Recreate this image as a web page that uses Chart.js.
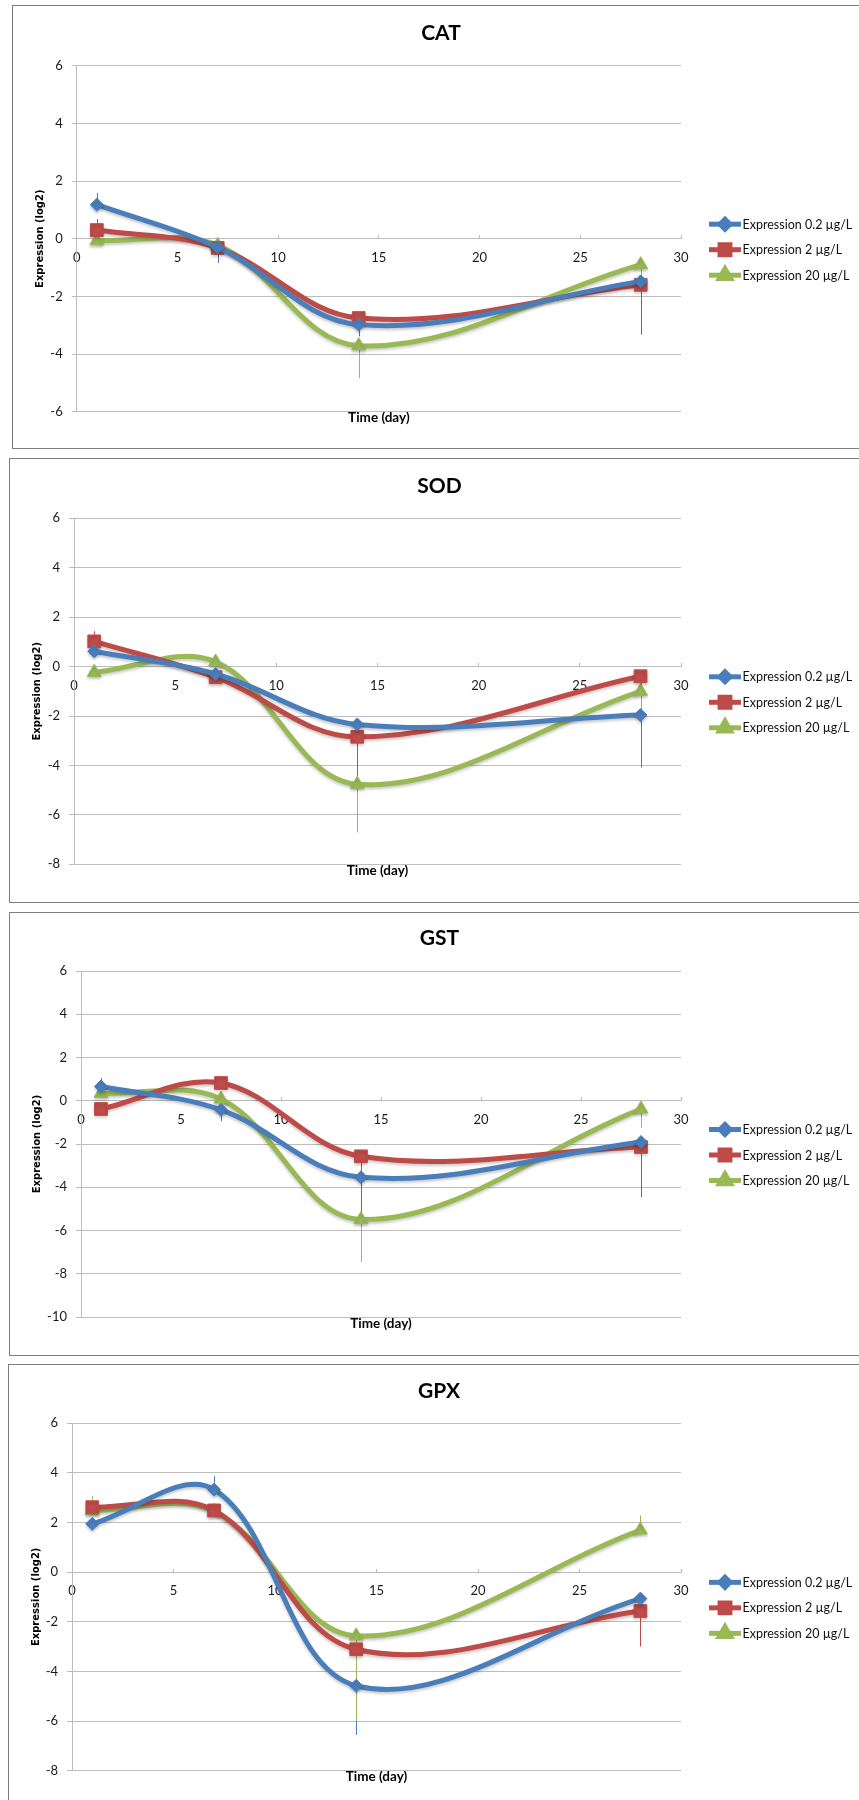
<!DOCTYPE html>
<html>
<head>
<meta charset="utf-8">
<script src="https://cdn.jsdelivr.net/npm/chart.js@4.4.1/dist/chart.umd.min.js"></script>
<style>
html,body{margin:0;padding:0;background:#fff;}
body{width:859px;height:1800px;overflow:hidden;position:relative;}
.panel{position:absolute;border:1px solid #7d7d7d;box-sizing:border-box;background:#fff;overflow:hidden;}
.panel canvas{position:absolute;left:0;top:0;}
</style>
</head>
<body>
<div id="p0" class="panel"><canvas id="c0"></canvas></div>
<div id="p1" class="panel"><canvas id="c1"></canvas></div>
<div id="p2" class="panel"><canvas id="c2"></canvas></div>
<div id="p3" class="panel"><canvas id="c3"></canvas></div>
<script>
// ---------------- DATA ----------------
const days = [1, 7, 14, 28];
const seriesLabels = ['Expression 0.2 µg/L', 'Expression 2 µg/L', 'Expression 20 µg/L'];
const geneTitles = ['CAT', 'SOD', 'GST', 'GPX'];
const xTickMin = 0, xTickMax = 30, xTickStep = 5;
const yTickMin = [-6, -8, -10, -8];
const yTickMax = [6, 6, 6, 6];
const yTickStep = 2;
const yAxisTitle = 'Expression (log2)';
const xAxisTitle = 'Time (day)';

// CAT
const cat02 = [1.18, -0.30, -2.98, -1.48];
const cat2  = [0.30, -0.32, -2.75, -1.60];
const cat20 = [-0.07, -0.23, -3.71, -0.90];
const catErr02 = [0.40, 0.55, 0.25, 0.30];
const catErr2  = [0.38, 0.20, 0.64, 1.73];
const catErr20 = [0.10, 0.15, 1.12, 0.90];
// SOD
const sod02 = [0.62, -0.30, -2.34, -1.96];
const sod2  = [1.02, -0.43, -2.84, -0.39];
const sod20 = [-0.23, 0.19, -4.76, -1.00];
const sodErr02 = [0.15, 0.20, 0.30, 2.13];
const sodErr2  = [0.41, 0.20, 1.80, 2.08];
const sodErr20 = [0.10, 0.10, 1.95, 1.00];
// GST
const gst02 = [0.66, -0.42, -3.54, -1.91];
const gst2  = [-0.38, 0.82, -2.57, -2.14];
const gst20 = [0.35, 0.08, -5.49, -0.38];
const gstErr02 = [0.39, 0.53, 0.30, 0.20];
const gstErr2  = [0.20, 0.20, 2.80, 2.32];
const gstErr20 = [0.20, 0.10, 1.97, 0.88];
// GPX
const gpx02 = [1.94, 3.32, -4.58, -1.07];
const gpx2  = [2.61, 2.48, -3.11, -1.57];
const gpx20 = [2.48, 2.45, -2.57, 1.69];
const gpxErr02 = [0.20, 0.54, 1.98, 0.30];
const gpxErr2  = [0.30, 0.20, 0.80, 1.43];
const gpxErr20 = [0.57, 0.20, 3.44, 0.59];

const geneValues = [[cat02, cat2, cat20], [sod02, sod2, sod20], [gst02, gst2, gst20], [gpx02, gpx2, gpx20]];
const geneErrors = [[catErr02, catErr2, catErr20], [sodErr02, sodErr2, sodErr20], [gstErr02, gstErr2, gstErr20], [gpxErr02, gpxErr2, gpxErr20]];

// ---------------- STYLE / LAYOUT ----------------
const seriesColors = ['#4a7ebb', '#be4b48', '#98b954'];
const seriesPoint = ['rectRot', 'rect', 'triangle'];
const seriesRadius = [6.5, 9, 8];
const legendRadius = [5, 7, 6.5];

// page coordinates of each panel
const geom = [
  {left: 12, top: 5,    height: 444, areaLeft: 76.7, areaTop: 65.7,  areaBottom: 411.7,  titleY: 33,   yTitleX: 40, xTitleY: 418},
  {left: 9,  top: 458,  height: 445, areaLeft: 74,   areaTop: 518.3, areaBottom: 864.3,  titleY: 486,  yTitleX: 37, xTitleY: 871},
  {left: 9,  top: 912,  height: 444, areaLeft: 81,   areaTop: 971,   areaBottom: 1317,   titleY: 938,  yTitleX: 37, xTitleY: 1324},
  {left: 8,  top: 1364, height: 446, areaLeft: 72,   areaTop: 1423,  areaBottom: 1770.7, titleY: 1391, yTitleX: 36, xTitleY: 1777}
];
const areaRight = 681;
const pageRight = 870;
const legendLineX = 709, legendLineLen = 32, legendGap = 1.5, legendRowGap = 25.5, legendDy = 11;

const tickFont = {family: 'Lato, "Open Sans", sans-serif', size: 13};
const gridColor = '#bdbdbd';

const errorBarPlugin = {
  id: 'errorBars',
  beforeDatasetsDraw(chart) {
    const {ctx} = chart;
    const xs = chart.scales.x, ys = chart.scales.y;
    ctx.save();
    chart.data.datasets.forEach((ds) => {
      ctx.strokeStyle = ds.borderColor;
      ctx.lineWidth = 1;
      ds.data.forEach((pt, j) => {
        const e = ds.errors[j];
        const dir = pt.y >= 0 ? 1 : -1;
        const px = Math.round(xs.getPixelForValue(pt.x)) + 0.5;
        ctx.beginPath();
        ctx.moveTo(px, ys.getPixelForValue(pt.y));
        ctx.lineTo(px, ys.getPixelForValue(pt.y + dir * e));
        ctx.stroke();
      });
    });
    ctx.restore();
  }
};

const softShadowPlugin = {
  id: 'softShadow',
  beforeDatasetDraw(chart) {
    const ctx = chart.ctx;
    ctx.save();
    ctx.shadowColor = 'rgba(0,0,0,0.22)';
    ctx.shadowBlur = 3;
    ctx.shadowOffsetX = 0;
    ctx.shadowOffsetY = 2;
  },
  afterDatasetDraw(chart) {
    chart.ctx.restore();
  }
};

const sideLegendPlugin = {
  id: 'sideLegend',
  afterDraw(chart, args, opts) {
    const {ctx, chartArea} = chart;
    const n = chart.data.datasets.length;
    const cy = (chartArea.top + chartArea.bottom) / 2 + opts.dy;
    chart.data.datasets.forEach((ds, i) => {
      const y = cy + (i - (n - 1) / 2) * opts.rowGap;
      ctx.save();
      ctx.strokeStyle = ds.borderColor;
      ctx.lineWidth = 5;
      ctx.beginPath();
      ctx.moveTo(opts.x, y);
      ctx.lineTo(opts.x + opts.len, y);
      ctx.stroke();
      ctx.fillStyle = ds.pointBackgroundColor;
      ctx.strokeStyle = ds.pointBorderColor;
      Chart.helpers.drawPoint(ctx, {pointStyle: ds.pointStyle, radius: ds.legendRadius, rotation: 0, borderWidth: 1}, opts.x + opts.len / 2, y);
      ctx.fillStyle = '#111';
      ctx.font = '12.5px Lato, "Open Sans", sans-serif';
      ctx.textAlign = 'left';
      ctx.textBaseline = 'middle';
      ctx.fillText(ds.label, opts.x + opts.len + opts.gap, y + 0.5);
      ctx.restore();
    });
  }
};

function buildPanel(idx) {
  const g = geom[idx];
  const cl = g.left + 1, ct = g.top + 1;
  const outerW = pageRight - g.left;
  const cw = outerW - 2, ch = g.height - 2;
  const div = document.getElementById('p' + idx);
  div.style.left = g.left + 'px';
  div.style.top = g.top + 'px';
  div.style.width = outerW + 'px';
  div.style.height = g.height + 'px';
  const canvas = document.getElementById('c' + idx);
  canvas.width = cw; canvas.height = ch;
  canvas.style.width = cw + 'px'; canvas.style.height = ch + 'px';

  const titleSize = 21, titleLH = titleSize * 1.2;
  const titlePadTop = (g.titleY - ct) - titleLH / 2;
  const titlePadBottom = (g.areaTop - ct) - titlePadTop - titleLH;
  const yTitleSize = 10, yTitleLH = yTitleSize * 1.2;
  const yAxisWidth = g.areaLeft - cl;
  const yTitlePad = (g.yTitleX - cl) - yTitleLH / 2;
  const xTitleSize = 13.5, xTitleLH = xTitleSize * 1.2;
  const x2Height = (ct + ch) - g.areaBottom;
  const xTitlePad = (ct + ch) - g.xTitleY - xTitleLH / 2;
  const rightSpace = cl + cw - areaRight;

  const datasets = seriesLabels.map((label, s) => ({
    label: label,
    data: days.map((d, j) => ({x: d, y: geneValues[idx][s][j]})),
    errors: geneErrors[idx][s],
    borderColor: seriesColors[s],
    backgroundColor: seriesColors[s],
    pointBackgroundColor: seriesColors[s],
    pointBorderColor: seriesColors[s],
    pointStyle: seriesPoint[s],
    pointRadius: seriesRadius[s],
    pointBorderWidth: 1,
    legendRadius: legendRadius[s],
    borderWidth: 5,
    borderCapStyle: 'round',
    borderJoinStyle: 'round',
    tension: 0.36,
    fill: false
  }));

  new Chart(canvas, {
    type: 'line',
    data: {datasets: datasets},
    options: {
      responsive: false,
      animation: false,
      events: [],
      layout: {padding: 0},
      plugins: {
        legend: {display: false},
        tooltip: {enabled: false},
        title: {
          display: true,
          text: geneTitles[idx],
          color: '#000',
          font: {family: 'Lato, "Open Sans", sans-serif', size: titleSize, weight: 'bold', lineHeight: 1.2},
          padding: {top: titlePadTop, bottom: titlePadBottom}
        },
        sideLegend: {x: legendLineX - cl, len: legendLineLen, gap: legendGap, rowGap: legendRowGap, dy: legendDy}
      },
      scales: {
        x: {
          type: 'linear',
          position: {y: 0},
          min: xTickMin, max: xTickMax,
          ticks: {stepSize: xTickStep, color: '#1a1a1a', font: tickFont, padding: 15, maxRotation: 0},
          grid: {drawOnChartArea: false, drawTicks: true, tickLength: -4, color: gridColor, lineWidth: 1},
          border: {display: true, color: gridColor, width: 1}
        },
        x2: {
          type: 'linear',
          axis: 'x',
          position: 'bottom',
          display: true,
          ticks: {display: false},
          grid: {display: false, drawTicks: false},
          border: {display: false},
          title: {
            display: true, text: xAxisTitle, color: '#000',
            font: {family: 'Lato, "Open Sans", sans-serif', size: xTitleSize, weight: 'bold', lineHeight: 1.2},
            padding: {top: 0, bottom: xTitlePad}
          },
          afterFit: (scale) => { scale.height = x2Height; }
        },
        y: {
          type: 'linear',
          position: 'left',
          min: yTickMin[idx], max: yTickMax[idx],
          ticks: {stepSize: yTickStep, color: '#1a1a1a', font: tickFont, padding: 9},
          grid: {color: gridColor, lineWidth: 1, tickLength: 5, drawTicks: true},
          border: {display: true, color: gridColor, width: 1},
          title: {
            display: true, text: yAxisTitle, color: '#000',
            font: {family: '"DejaVu Sans", Verdana, sans-serif', size: yTitleSize, weight: 'bold', lineHeight: 1.2},
            padding: {top: yTitlePad, bottom: 0}
          },
          afterFit: (scale) => { scale.width = yAxisWidth; }
        },
        yLegendSpace: {
          type: 'linear',
          axis: 'y',
          position: 'right',
          display: true,
          ticks: {display: false},
          grid: {display: false, drawTicks: false},
          border: {display: false},
          afterFit: (scale) => { scale.width = rightSpace; }
        }
      }
    },
    plugins: [errorBarPlugin, softShadowPlugin, sideLegendPlugin]
  });
}

for (let i = 0; i < 4; i++) buildPanel(i);
</script>
</body>
</html>
